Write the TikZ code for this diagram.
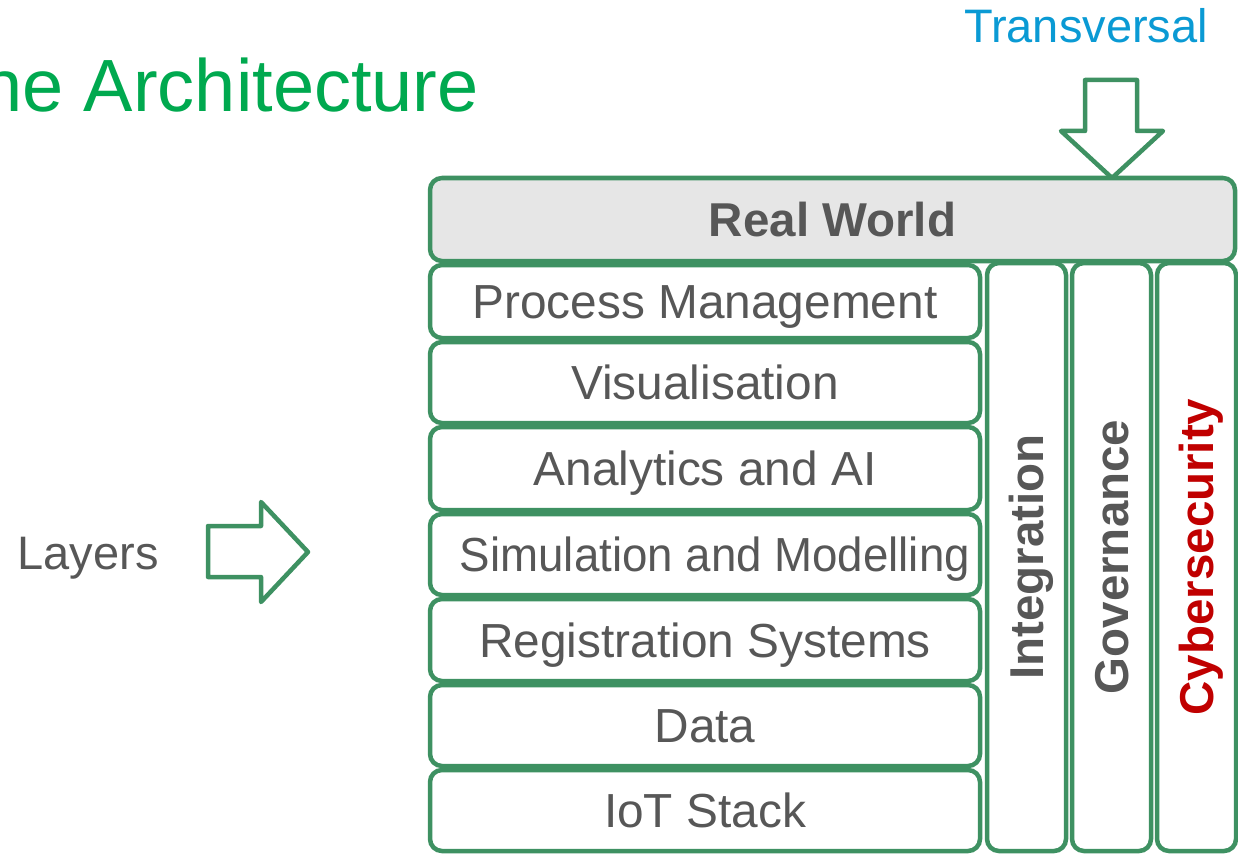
\documentclass[tikz,border=0pt]{standalone}
\usepackage{fontspec}
\setmainfont{Liberation Sans}
\usepackage{tikz}
\definecolor{twgreen}{HTML}{3E9162}
\definecolor{titlegreen}{HTML}{00A94F}
\definecolor{transblue}{HTML}{0A9AD4}
\definecolor{txtgray}{HTML}{575757}
\definecolor{rwgray}{HTML}{E6E6E6}
\definecolor{secred}{HTML}{C00000}
\tikzstyle{layer} = [draw=twgreen, line width=4.5pt, rounded corners=12pt, fill=white, text=txtgray, font=\fontsize{47.8}{50}\selectfont, minimum width=550pt, text height=34pt, text depth=0pt, inner sep=0pt]
\tikzstyle{pillar} = [layer, rotate=90, font=\fontsize{47.5}{50}\selectfont\bfseries, minimum width=588pt, minimum height=79pt]
\tikzstyle{blockarrow} = [draw=twgreen, line width=4.5pt, line join=round]

\begin{document}
\begin{tikzpicture}[x=1pt,y=-1pt]
  \useasboundingbox (0,0) rectangle (1238,853);
  \node[anchor=base west, inner sep=0pt, text=titlegreen, font=\fontsize{74}{80}\selectfont] (title) at (-19,112) {ne Architecture};
  \node[anchor=base, inner sep=0pt, text=transblue, font=\fontsize{47}{50}\selectfont] (trans) at (1086,43) {Transversal};
  \node[anchor=base, inner sep=0pt, text=txtgray, font=\fontsize{47}{50}\selectfont] (layers) at (88,569) {Layers};
  % block arrows
  \draw[blockarrow] (1085,80) -- (1137,80) -- (1137,131) -- (1163,131) -- (1112,178) -- (1061,131) -- (1085,131) -- cycle;
  \draw[blockarrow] (208,526) -- (261,526) -- (261,502) -- (308,552) -- (261,602) -- (261,577) -- (208,577) -- cycle;
  % transversal pillars
  \node[pillar] (integ) at (1026.5,557) {Integration};
  \node[pillar] (gov) at (1111.5,557) {Governance};
  \node[pillar, text=secred] (cyber) at (1196.5,557) {Cybersecurity};
  % top layer
  \node[layer, fill=rwgray, font=\fontsize{47.5}{50}\selectfont\bfseries, minimum width=805pt, minimum height=83pt] (real) at (832.5,219.5) {Real World};
  % stacked layers
  \foreach \nm/\txt/\yt/\yb/\dx in {pm/Process Management/263/340/0,
      vis/Visualisation/340/425/0,
      ai/Analytics and AI/425/512/0,
      sim/{\scalebox{.955}[1]{Simulation and Modelling}}/512/597/10,
      reg/Registration Systems/597/683/0,
      data/Data/683/768/0,
      iot/IoT Stack/768/853/0}{
    \pgfmathsetmacro\ymid{(\yt+\yb)/2}
    \pgfmathsetmacro\hgt{\yb-\yt-4}
    \node[layer, minimum height=\hgt pt] (\nm) at (705,\ymid) {};
    \node[inner sep=0pt, text=txtgray, font=\fontsize{47.8}{50}\selectfont, text height=34pt, text depth=0pt] (\nm-txt) at (705+\dx,\ymid) {\txt};
  }
\end{tikzpicture}
\end{document}
